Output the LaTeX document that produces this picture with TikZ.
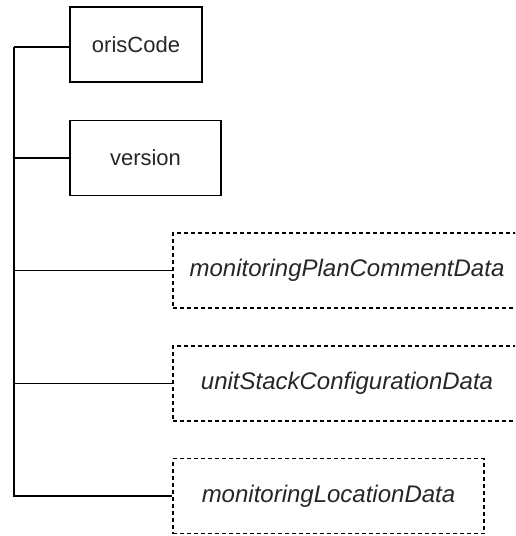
\documentclass[tikz,border=0pt]{standalone}
\usepackage{fontspec}
\setmainfont{Liberation Sans}
\begin{document}
\begin{tikzpicture}[x=1pt,y=-1pt,
  solidbox/.style={draw=black, line width=1.1pt, minimum height=75pt, inner sep=0pt, font=\fontsize{22}{26}\selectfont, text=black!85},
  optbox/.style={draw=black, line width=1.1pt, dash pattern=on 4pt off 3pt, minimum height=75pt, inner sep=0pt, font=\fontsize{24}{28}\selectfont\itshape, text=black!85},
  link/.style={draw=black, line width=1.2pt}]
\clip (0,0) rectangle (515,536);
\node[solidbox, minimum width=132pt] (o) at (136,44.5) {orisCode};
\node[solidbox, minimum width=151pt] (v) at (145.5,158) {version};
\node[optbox, minimum width=348pt] (p) at (347,270.5) {monitoringPlanCommentData};
\node[optbox, minimum width=348pt] (u) at (347,383.5) {unitStackConfigurationData};
\node[optbox, minimum width=311pt] (l) at (328.5,496) {monitoringLocationData};
\coordinate (top) at (14,47);
\coordinate (bot) at (14,496);
\draw[link, line width=1.6pt] (o.west |- top) -- (top);
\draw[link] (top) -- (bot) -- (l.west);
\draw[link] (v.west) -- (v.west -| top);
\draw[link] (p.west) -- (p.west -| top);
\draw[link] (u.west) -- (u.west -| top);
\end{tikzpicture}
\end{document}
